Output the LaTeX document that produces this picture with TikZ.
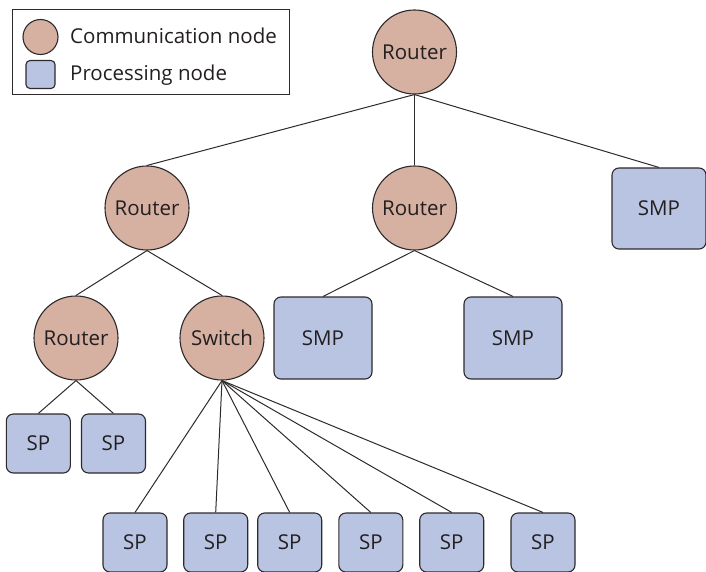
\documentclass[tikz,border=0pt]{standalone}
\usepackage{fontspec}
\setmainfont{Open Sans}
\definecolor{edge}{HTML}{2E2A2B}
\definecolor{ink}{HTML}{231F20}
\definecolor{commfill}{HTML}{D6B1A1}
\definecolor{procfill}{HTML}{B8C4E2}
\begin{document}
\begin{tikzpicture}[x=1pt,y=-1pt,
  every node/.style={text=ink},
  labelfont/.style={font=\fontsize{20.5}{24}\selectfont},
  comm/.style={circle, draw=edge, fill=commfill, line width=1.1pt,
    minimum size=84pt, inner sep=0pt, labelfont},
  proc/.style={rectangle, rounded corners=7pt, draw=edge, fill=procfill,
    line width=1.1pt, inner sep=0pt, labelfont},
  smp/.style={proc, minimum width=98pt, minimum height=82pt},
  sp/.style={proc, minimum width=64pt, minimum height=59pt},
  link/.style={draw=edge, line width=1pt},
  legendtext/.style={anchor=west, inner sep=0pt, labelfont}]
\useasboundingbox (0,0) rectangle (706,572);

% legend
\node[draw=edge, line width=1pt, minimum width=277pt, minimum height=85pt,
  inner sep=0pt] (legend) at (150.5,52.5) {};
\node[comm, minimum size=35pt] (legcomm) at (40.5,37) {};
\node[proc, rounded corners=4pt, minimum width=29pt, minimum height=28pt] (legproc) at (40.5,74.5) {};
\node[legendtext] (legcommtext) at (70,36) {Communication node};
\node[legendtext] (legproctext) at (70,75) {Processing node};

% communication nodes
\node[comm] (rtop) at (414.5,52) {Router};
\node[comm] (rleft) at (147,208) {Router};
\node[comm] (rmid) at (414.5,208) {Router};
\node[comm] (rlow) at (76,338) {Router};
\node[comm] (switch) at (222,338) {Switch};

% processing nodes
\node[smp, minimum width=94pt, minimum height=81pt] (smpr) at (659,208.5) {SMP};
\node[smp] (smpa) at (323,338) {SMP};
\node[smp] (smpb) at (513,338) {SMP};
\node[sp] (spa) at (38.3,443.5) {SP};
\node[sp] (spb) at (113.5,443.5) {SP};
\node[sp] (sp1) at (135,542.5) {SP};
\node[sp] (sp2) at (215.7,542.5) {SP};
\node[sp] (sp3) at (289.7,542.5) {SP};
\node[sp] (sp4) at (370.8,542.5) {SP};
\node[sp] (sp5) at (451.7,542.5) {SP};
\node[sp] (sp6) at (543,542.5) {SP};

% links
\draw[link] (rtop.south) -- (rleft.north);
\draw[link] (rtop.south) -- (rmid.north);
\draw[link] (rtop.south) -- (smpr.north);
\draw[link] (rleft.south) -- (rlow.north);
\draw[link] (rleft.south) -- (switch.north);
\draw[link] (rmid.south) -- (smpa.north);
\draw[link] (rmid.south) -- (smpb.north);
\draw[link] (rlow.south) -- (spa.north);
\draw[link] (rlow.south) -- (spb.north);
\foreach \i in {1,...,6}
  \draw[link] (switch.south) -- (sp\i.north);
\end{tikzpicture}
\end{document}
